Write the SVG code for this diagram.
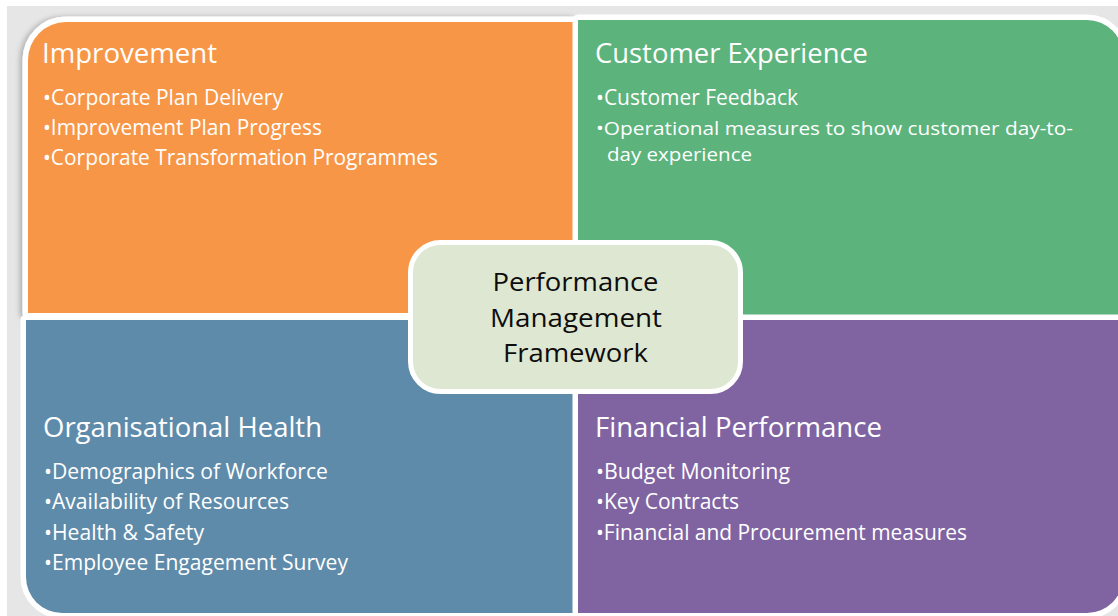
<svg xmlns="http://www.w3.org/2000/svg" width="1118" height="616" viewBox="0 0 1118 616">
  <defs>
    <filter id="shadow" x="-5%" y="-5%" width="110%" height="110%">
      <feDropShadow dx="-3" dy="0" stdDeviation="2.5" flood-color="#000000" flood-opacity="0.22"/>
    </filter>
  </defs>
  <style>
    .quad { stroke: #ffffff; stroke-width: 11; paint-order: stroke fill; stroke-linejoin: round; }
    .title { font-family: "Open Sans", "Noto Sans", sans-serif; font-size: 28px; fill: #ffffff; }
    .item { font-family: "Open Sans", "Noto Sans", sans-serif; font-size: 21px; fill: #ffffff; }
    .wrap { font-size: 18.5px; }
    .center { font-family: "Open Sans", "Noto Sans", sans-serif; font-size: 26px; fill: #0d0d0d; text-anchor: middle; }
  </style>
  <rect x="0" y="0" width="1118" height="616" fill="#ffffff"/>
  <rect x="7" y="6" width="1111" height="610" fill="#e6e6e6"/>

  <g id="improvement">
    <path class="quad" filter="url(#shadow)" d="M28,60 A38,38 0 0 1 66,22 L573,22 L573,313 L28,313 Z" fill="#f79646"/>
    <text class="title" x="42" y="63" textLength="175" lengthAdjust="spacingAndGlyphs">Improvement</text>
    <text class="item" x="43" y="105" textLength="240" lengthAdjust="spacingAndGlyphs">•Corporate Plan Delivery</text>
    <text class="item" x="43" y="135" textLength="279" lengthAdjust="spacingAndGlyphs">•Improvement Plan Progress</text>
    <text class="item" x="43" y="165" textLength="395" lengthAdjust="spacingAndGlyphs">•Corporate Transformation Programmes</text>
  </g>

  <g id="customer-experience">
    <path class="quad" d="M578,20 L1087,20 A36,36 0 0 1 1123,56 L1123,315 L578,315 Z" fill="#5cb37c"/>
    <text class="title" x="595" y="63" textLength="273" lengthAdjust="spacingAndGlyphs">Customer Experience</text>
    <text class="item" x="596" y="105" textLength="202" lengthAdjust="spacingAndGlyphs">•Customer Feedback</text>
    <text class="item wrap" x="596" y="135" textLength="477" lengthAdjust="spacingAndGlyphs">•Operational measures to show customer day-to-</text>
    <text class="item wrap" x="607" y="161" textLength="145" lengthAdjust="spacingAndGlyphs">day experience</text>
  </g>

  <g id="organisational-health">
    <path class="quad" d="M26,320 L573,320 L573,613 L62,613 A36,36 0 0 1 26,577 Z" fill="#5f8baa"/>
    <text class="title" x="43" y="437" textLength="279" lengthAdjust="spacingAndGlyphs">Organisational Health</text>
    <text class="item" x="44" y="479" textLength="284" lengthAdjust="spacingAndGlyphs">•Demographics of Workforce</text>
    <text class="item" x="44" y="509" textLength="245" lengthAdjust="spacingAndGlyphs">•Availability of Resources</text>
    <text class="item" x="44" y="540" textLength="160" lengthAdjust="spacingAndGlyphs">•Health &amp; Safety</text>
    <text class="item" x="44" y="570" textLength="304" lengthAdjust="spacingAndGlyphs">•Employee Engagement Survey</text>
  </g>

  <g id="financial-performance">
    <path class="quad" d="M578,320 L1123,320 L1123,577 A36,36 0 0 1 1087,613 L578,613 Z" fill="#8064a2"/>
    <text class="title" x="595" y="437" textLength="287" lengthAdjust="spacingAndGlyphs">Financial Performance</text>
    <text class="item" x="596" y="479" textLength="194" lengthAdjust="spacingAndGlyphs">•Budget Monitoring</text>
    <text class="item" x="596" y="509" textLength="143" lengthAdjust="spacingAndGlyphs">•Key Contracts</text>
    <text class="item" x="596" y="540" textLength="371" lengthAdjust="spacingAndGlyphs">•Financial and Procurement measures</text>
  </g>

  <g id="performance-management-framework">
    <rect x="410.5" y="242.5" width="330" height="149" rx="30" ry="30" fill="#dee7d1" stroke="#ffffff" stroke-width="5"/>
    <text class="center" x="575.5" y="291" textLength="166" lengthAdjust="spacingAndGlyphs">Performance</text>
    <text class="center" x="576" y="326.5" textLength="172" lengthAdjust="spacingAndGlyphs">Management</text>
    <text class="center" x="575.5" y="362" textLength="145" lengthAdjust="spacingAndGlyphs">Framework</text>
  </g>

  <g id="connectors"></g>
</svg>
